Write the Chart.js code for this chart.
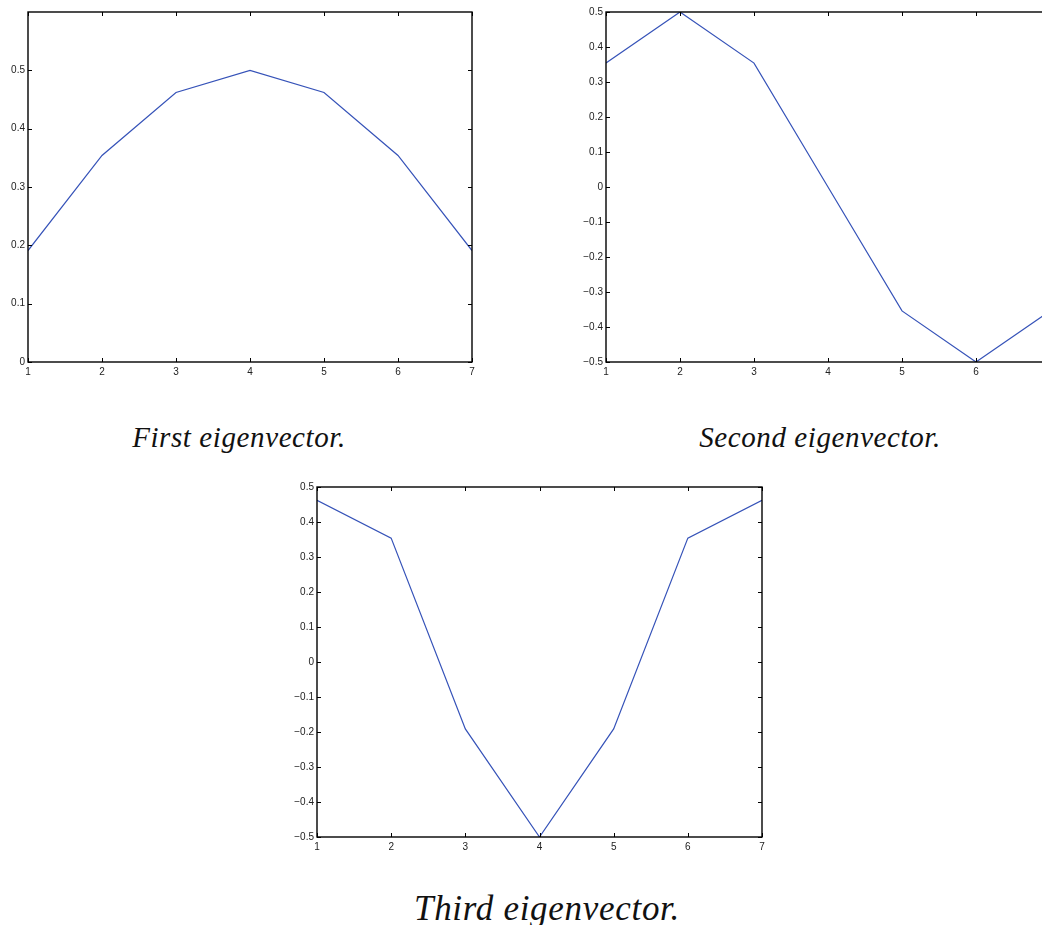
<!DOCTYPE html>
<html>
<head>
<meta charset="utf-8">
<script src="https://cdn.jsdelivr.net/npm/chart.js@4"></script>
<style>
  html, body { margin: 0; padding: 0; background: #fff; overflow: hidden; }
  #page { position: relative; width: 1042px; height: 925px; overflow: hidden; }
  canvas { position: absolute; }
  .cap { position: absolute; width: 400px; text-align: center; font-family: "Liberation Serif", serif;
         font-style: italic; color: #111; line-height: 1; white-space: nowrap; }
</style>
</head>
<body>
<div id="page">
  <canvas id="c1" width="500" height="385" style="left:0px;top:0px"></canvas>
  <canvas id="c2" width="500" height="385" style="left:560px;top:0px"></canvas>
  <canvas id="c3" width="520" height="390" style="left:270px;top:470px"></canvas>
  <div class="cap" style="left:39px;top:423px;font-size:29px;letter-spacing:0.6px">First eigenvector.</div>
  <div class="cap" style="left:620px;top:423px;font-size:29px;letter-spacing:0.6px">Second eigenvector.</div>
  <div class="cap" style="left:347px;top:891px;font-size:35px;letter-spacing:0.7px">Third eigenvector.</div>
</div>
<script>
const xValues = [1, 2, 3, 4, 5, 6, 7];
const firstVec = [0.191, 0.354, 0.462, 0.5, 0.462, 0.354, 0.191];
const secondVec = [0.354, 0.5, 0.354, 0, -0.354, -0.5, -0.354];
const thirdVec = [0.462, 0.354, -0.191, -0.5, -0.191, 0.354, 0.462];

// matlab style box with inward ticks on all four sides
const boxTicks = {
    id: 'boxTicks',
    afterDatasetsDraw(chart) {
        const { ctx, chartArea: a, scales: { x, y } } = chart;
        ctx.save();
        ctx.strokeStyle = '#000';
        ctx.lineWidth = 1;
        ctx.beginPath();
        x.ticks.forEach(t => {
            const px = Math.round(x.getPixelForValue(t.value)) + 0.5;
            ctx.moveTo(px, a.bottom); ctx.lineTo(px, a.bottom - 4);
            ctx.moveTo(px, a.top); ctx.lineTo(px, a.top + 4);
        });
        y.ticks.forEach(t => {
            const py = Math.round(y.getPixelForValue(t.value)) + 0.5;
            ctx.moveTo(a.left, py); ctx.lineTo(a.left + 4, py);
            ctx.moveTo(a.right, py); ctx.lineTo(a.right - 4, py);
        });
        ctx.stroke();
        ctx.lineWidth = 1.4;
        ctx.strokeRect(a.left, a.top, a.right - a.left, a.bottom - a.top);
        ctx.restore();
    }
};

function fmt(v) {
    if (Math.abs(v) < 1e-9) return '0';
    return (v < 0 ? '\u2212' : '') + Math.abs(v).toFixed(1);
}

function makeChart(id, values, yMin, yMax, yWidth, padding) {
    new Chart(document.getElementById(id), {
        type: 'line',
        data: {
            datasets: [{
                data: xValues.map((x, i) => ({ x: x, y: values[i] })),
                borderColor: '#3552b8',
                borderWidth: 1.2,
                pointRadius: 0,
                tension: 0,
                fill: false
            }]
        },
        options: {
            responsive: false,
            animation: false,
            devicePixelRatio: 1,
            layout: { padding: padding },
            plugins: { legend: { display: false }, tooltip: { enabled: false } },
            scales: {
                x: {
                    type: 'linear',
                    min: 1, max: 7,
                    grid: { display: false, drawTicks: false },
                    border: { display: false },
                    ticks: { stepSize: 1, padding: 4, maxRotation: 0, color: '#222',
                             font: { family: 'Liberation Sans', size: 10 } },
                    afterFit: s => { s.height = 18; }
                },
                y: {
                    min: yMin, max: yMax,
                    grid: { display: false, drawTicks: false },
                    border: { display: false },
                    ticks: { stepSize: 0.1, padding: 3, color: '#222',
                             font: { family: 'Liberation Sans', size: 10 },
                             callback: v => fmt(v) },
                    afterBuildTicks: s => { s.ticks = s.ticks.filter(t => t.value <= 0.5 + 1e-9); },
                    afterFit: s => { s.width = yWidth; }
                }
            }
        },
        plugins: [boxTicks]
    });
}

makeChart('c1', firstVec, 0, 0.6, 28, { top: 12, right: 28, bottom: 5, left: 0 });
makeChart('c2', secondVec, -0.5, 0.5, 46, { top: 12, right: 10, bottom: 5, left: 0 });
makeChart('c3', thirdVec, -0.5, 0.5, 47, { top: 17, right: 28, bottom: 5, left: 0 });
</script>
</body>
</html>
